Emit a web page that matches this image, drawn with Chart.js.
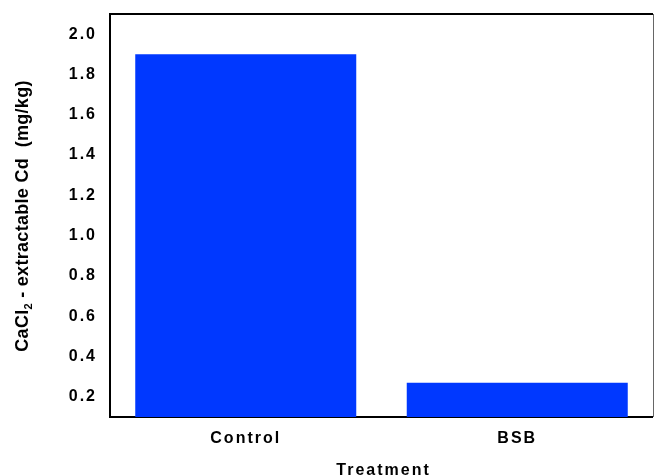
<!DOCTYPE html>
<html>
<head>
<meta charset="utf-8">
<script src="https://cdn.jsdelivr.net/npm/chart.js@4/dist/chart.umd.min.js"></script>
<style>
  html, body { margin: 0; padding: 0; background: #fff; }
  #wrap { width: 654px; height: 476px; position: relative; }
</style>
</head>
<body>
<div id="wrap"><canvas id="c" width="654" height="476"></canvas></div>
<script>
// Treatments and extractable Cd values (mg/kg)
const categories = ['Control', 'BSB'];
const cdValues = [1.90, 0.27];
const yTickValues = [0.2, 0.4, 0.6, 0.8, 1.0, 1.2, 1.4, 1.6, 1.8, 2.0];
const yMin = 0.1;
const yMax = 2.1;
const xTitle = 'Treatment';

const FONT = "'Liberation Sans', Arial, sans-serif";
const BAR_BLUE = 'rgb(0, 56, 255)';

// Frame around the plot area, drawn beneath the bars
const framePlugin = {
  id: 'frame',
  beforeDraw(chart) {
    chart.ctx.letterSpacing = '2px';
  },
  beforeDatasetsDraw(chart) {
    const { ctx, chartArea: a } = chart;
    ctx.save();
    ctx.strokeStyle = '#000';
    ctx.lineWidth = 2;
    ctx.beginPath();
    ctx.moveTo(a.left, a.bottom);
    ctx.lineTo(a.left, a.top);
    ctx.lineTo(a.right, a.top);
    ctx.moveTo(a.left - 1, a.bottom);
    ctx.lineTo(a.right, a.bottom);
    ctx.stroke();
    ctx.strokeStyle = '#666';
    ctx.lineWidth = 1;
    ctx.beginPath();
    ctx.moveTo(a.right + 0.5, a.top);
    ctx.lineTo(a.right + 0.5, a.bottom);
    ctx.stroke();
    ctx.restore();
  },
  afterDraw(chart) {
    const { ctx, chartArea: a } = chart;
    ctx.save();
    ctx.fillStyle = '#000';

    // x-axis title
    ctx.letterSpacing = '2px';
    ctx.font = `bold 16px ${FONT}`;
    ctx.textAlign = 'center';
    ctx.textBaseline = 'alphabetic';
    ctx.fillText(xTitle, (a.left + a.right) / 2 + 2, 475);

    // y-axis title with subscript, rotated
    ctx.letterSpacing = '0.3px';
    const parts = [
      { t: 'CaCl', f: `bold 18px ${FONT}`, dy: 0 },
      { t: '2', f: `bold 11px ${FONT}`, dy: 4 },
      { t: ' - extractable Cd  (mg/kg)', f: `bold 18px ${FONT}`, dy: 0 }
    ];
    let total = 0;
    parts.forEach(p => { ctx.font = p.f; p.w = ctx.measureText(p.t).width; total += p.w; });
    ctx.translate(28, 216);
    ctx.rotate(-Math.PI / 2);
    ctx.textAlign = 'left';
    let x = -total / 2;
    parts.forEach(p => {
      ctx.font = p.f;
      ctx.fillText(p.t, x, p.dy);
      x += p.w;
    });
    ctx.restore();
  }
};

new Chart(document.getElementById('c'), {
  type: 'bar',
  data: {
    labels: categories,
    datasets: [{
      data: cdValues,
      backgroundColor: BAR_BLUE,
      borderWidth: 0,
      barPercentage: 0.814,
      categoryPercentage: 1.0
    }]
  },
  options: {
    responsive: false,
    animation: false,
    devicePixelRatio: 1,
    layout: { padding: { top: 14, right: 1, left: 0, bottom: 0 } },
    plugins: {
      legend: { display: false },
      tooltip: { enabled: false }
    },
    scales: {
      x: {
        grid: { display: false, drawTicks: false },
        border: { display: false },
        ticks: {
          color: '#000',
          font: { family: FONT, size: 16, weight: 'bold' },
          padding: 12
        },
        afterFit(scale) {
          scale.height = 59;
          scale.paddingLeft = 0;
          scale.paddingRight = 0;
        }
      },
      y: {
        min: yMin,
        max: yMax,
        grid: { display: false, drawTicks: false },
        border: { display: false },
        afterBuildTicks(scale) {
          scale.ticks = yTickValues.map(v => ({ value: v }));
        },
        ticks: {
          color: '#000',
          font: { family: FONT, size: 16, weight: 'bold' },
          padding: 13,
          callback: v => Number(v).toFixed(1)
        },
        afterFit(scale) {
          scale.width = 110;
          scale.paddingTop = 0;
          scale.paddingBottom = 0;
        }
      }
    }
  },
  plugins: [framePlugin]
});
</script>
</body>
</html>
